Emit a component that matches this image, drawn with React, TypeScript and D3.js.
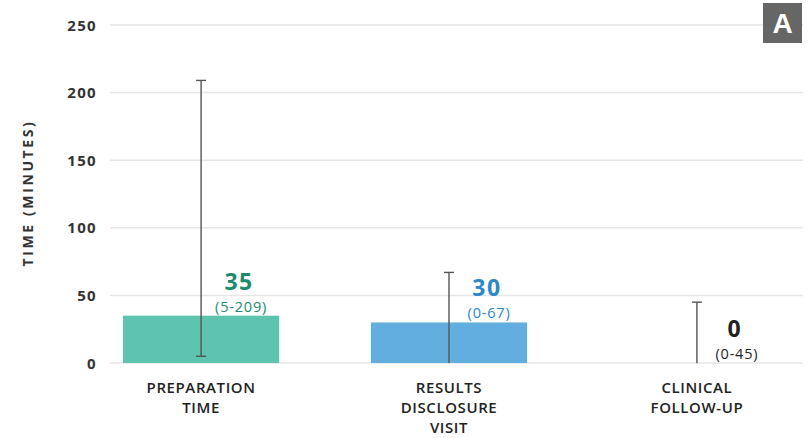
import React from "react";
import * as d3 from "d3";

const categories = ["PREPARATION TIME", "RESULTS DISCLOSURE VISIT", "CLINICAL FOLLOW-UP"];
const categoryLines = [["PREPARATION", "TIME"], ["RESULTS", "DISCLOSURE", "VISIT"], ["CLINICAL", "FOLLOW-UP"]];
const medians = [35, 30, 0];
const rangeLow = [5, 0, 0];
const rangeHigh = [209, 67, 45];
const yTicks = [0, 50, 100, 150, 200, 250];
const barColors = ["#5ec4af", "#62aedf", "#999999"];
const textColors = ["#1c8a6c", "#2c87c9", "#222222"];

export default function App() {
  const W = 808, H = 438;
  const y = d3.scaleLinear().domain([0, 250]).range([363, 25]);
  const x = d3.scaleBand<string>().domain(categories).range([123, 775]).paddingInner(0.37).paddingOuter(0);
  const gridX0 = 110, gridX1 = 803;
  const font = "'Open Sans', 'Liberation Sans', sans-serif";

  return (
    <svg width={W} height={H} style={{ position: "absolute", left: 0, top: 0, background: "#fff" }}>
      {yTicks.map((t) => (
        <g key={t}>
          <line x1={gridX0} x2={gridX1} y1={y(t)} y2={y(t)} stroke="#e6e6e6" strokeWidth={1.5} />
          <text x={97} y={y(t) + 5.5} textAnchor="end" fontFamily={font} fontWeight={700} fontSize={15} letterSpacing={1.3} fill="#333">
            {t}
          </text>
        </g>
      ))}
      <text transform={`translate(33,193) rotate(-90)`} textAnchor="middle" fontFamily={font} fontWeight={700} fontSize={14} letterSpacing={2.6} fill="#333">
        TIME (MINUTES)
      </text>
      {categories.map((c, i) => {
        const cx = (x(c) as number) + x.bandwidth() / 2;
        return (
          <g key={c}>
            {medians[i] > 0 && (
              <rect x={x(c)} y={y(medians[i])} width={x.bandwidth()} height={y(0) - y(medians[i])} fill={barColors[i]} />
            )}
            <line x1={cx} x2={cx} y1={y(rangeLow[i])} y2={y(rangeHigh[i])} stroke="#555" strokeWidth={1.4} />
            <line x1={cx - 5} x2={cx + 5} y1={y(rangeHigh[i])} y2={y(rangeHigh[i])} stroke="#555" strokeWidth={1.4} />
            {rangeLow[i] > 0 && (
              <line x1={cx - 5} x2={cx + 5} y1={y(rangeLow[i])} y2={y(rangeLow[i])} stroke="#555" strokeWidth={1.4} />
            )}
            <text x={cx + 38} y={y(medians[i]) - 26} textAnchor="middle" fontFamily={font} fontWeight={700} fontSize={23} letterSpacing={1.5} fill={textColors[i]}>
              {medians[i]}
            </text>
            <text x={cx + 40} y={y(medians[i]) - 4} textAnchor="middle" fontFamily={font} fontSize={14.5} letterSpacing={0.8} fill={textColors[i]}>
              ({rangeLow[i]}-{rangeHigh[i]})
            </text>
            {categoryLines[i].map((ln, k) => (
              <text key={k} x={cx} y={393 + k * 20} textAnchor="middle" fontFamily={font} fontWeight={600} fontSize={15} letterSpacing={0.6} fill="#222">
                {ln}
              </text>
            ))}
          </g>
        );
      })}
      <rect x={763} y={3} width={39} height={40} fill="#666" />
      <text x={782.5} y={33} textAnchor="middle" fontFamily="'Liberation Sans', sans-serif" fontWeight={700} fontSize={28} fill="#fff">
        A
      </text>
    </svg>
  );
}
